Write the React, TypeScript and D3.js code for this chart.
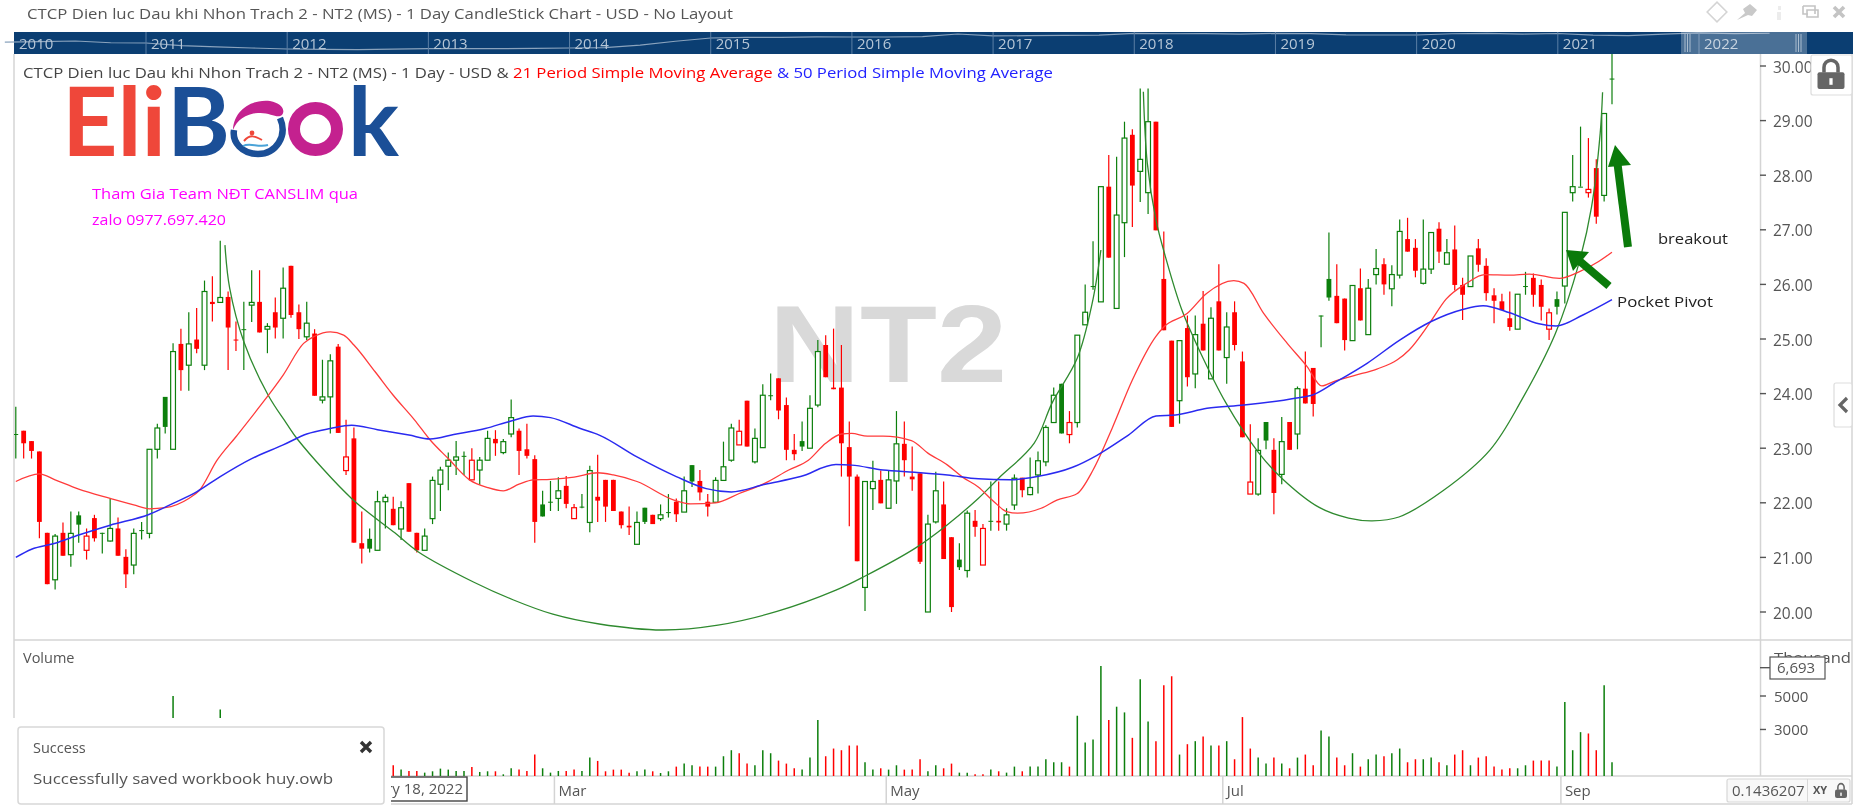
import React, { useEffect, useRef } from "react";
import * as d3 from "d3";

const WIDTH = 1856;
const HEIGHT = 810;

const FONT = "'Open Sans', sans-serif";

const openPrices = [
    23.26, 23.32, 23.13, 22.94, 21.45, 20.59, 21.45, 21.05, 21.77, 21.13,
    21.72, 21.45, 21.30, 21.53, 21.01, 20.86, 21.50, 21.44, 22.98, 23.94,
    22.98, 24.91, 24.52, 24.99, 24.52, 25.68, 25.67, 25.77, 24.99, 25.18,
    25.62, 25.68, 25.18, 25.49, 25.38, 26.34, 25.49, 25.04, 25.10, 23.88,
    23.94, 24.86, 22.59, 23.18, 21.26, 21.34, 21.13, 22.02, 21.89, 21.52,
    22.36, 21.45, 21.13, 21.71, 22.34, 22.67, 22.78, 22.86, 22.42, 22.60,
    22.78, 23.17, 22.92, 23.26, 23.32, 22.98, 22.80, 21.97, 22.02, 22.08,
    22.31, 21.71, 21.93, 21.64, 22.11, 22.42, 22.42, 21.84, 21.58, 21.24,
    21.91, 21.78, 21.71, 21.83, 22.02, 21.83, 22.69, 22.40, 22.02, 22.01,
    22.41, 22.78, 23.06, 23.87, 22.75, 23.01, 23.97, 24.28, 23.79, 22.97,
    23.13, 23.00, 23.79, 24.89, 24.11, 24.11, 23.02, 22.48, 20.45, 22.26,
    22.42, 21.90, 22.40, 23.08, 22.48, 22.54, 20.00, 21.65, 21.97, 21.37,
    20.96, 20.76, 21.67, 20.86, 21.67, 21.67, 21.61, 21.96, 22.46, 22.15,
    22.51, 22.75, 23.47, 24.18, 23.25, 23.47, 25.26, 25.97, 25.68, 27.79,
    25.56, 27.13, 28.74, 28.07, 27.68, 28.98, 26.10, 24.97, 23.87, 25.20,
    24.36, 25.28, 24.27, 25.69, 24.66, 25.49, 24.59, 22.16, 22.16, 23.48,
    22.97, 22.52, 23.48, 23.26, 24.09, 24.47, 25.43, 26.10, 25.79, 25.74,
    24.97, 25.93, 25.08, 26.18, 26.37, 25.92, 26.17, 26.83, 26.67, 26.02,
    26.28, 27.02, 26.37, 26.64, 25.99, 25.96, 26.66, 26.34, 25.80, 25.69,
    25.38, 25.18, 25.97, 26.12, 25.99, 25.18, 25.73, 25.97, 27.68, 27.79,
    27.68, 28.13, 27.63, 29.77,
];

const closePrices = [
    23.26, 23.09, 22.95, 21.65, 20.51, 21.39, 21.03, 21.44, 21.60, 21.39,
    21.35, 21.45, 21.53, 21.03, 20.69, 21.44, 21.50, 22.98, 23.37, 23.39,
    24.77, 24.43, 24.91, 24.82, 25.87, 25.64, 25.76, 25.21, 24.98, 25.18,
    25.67, 25.12, 25.23, 25.21, 25.93, 25.44, 25.18, 25.29, 23.96, 23.94,
    24.60, 23.28, 22.84, 21.27, 21.16, 21.16, 22.02, 22.10, 21.59, 21.91,
    21.47, 21.13, 21.39, 22.41, 22.60, 22.78, 22.84, 22.86, 22.78, 22.78,
    23.18, 23.09, 23.12, 23.56, 22.95, 22.86, 21.65, 21.75, 22.02, 22.22,
    21.98, 21.91, 21.93, 22.59, 22.04, 21.93, 21.85, 21.59, 21.55, 21.64,
    21.65, 21.61, 21.78, 21.83, 21.79, 22.22, 22.39, 22.19, 21.93, 22.41,
    22.66, 23.37, 23.31, 23.03, 23.18, 23.97, 23.97, 23.69, 22.97, 22.89,
    23.03, 23.73, 24.77, 24.30, 24.08, 23.09, 22.48, 20.93, 22.39, 22.39,
    21.99, 22.42, 23.08, 22.78, 22.43, 20.92, 21.61, 22.22, 20.97, 20.09,
    20.82, 21.81, 21.56, 21.53, 21.67, 21.64, 21.78, 22.45, 22.23, 22.28,
    22.77, 23.38, 23.97, 23.27, 23.47, 25.07, 25.49, 25.97, 27.79, 26.49,
    27.27, 28.68, 27.81, 28.29, 28.98, 26.99, 25.16, 23.39, 24.97, 24.30,
    25.08, 24.79, 25.38, 24.79, 25.22, 24.89, 23.20, 22.38, 22.96, 23.14,
    22.18, 23.12, 22.97, 24.09, 23.82, 23.81, 25.43, 25.76, 25.29, 24.98,
    25.98, 25.34, 25.93, 26.29, 26.00, 26.18, 26.97, 26.60, 26.25, 26.28,
    26.95, 26.60, 26.58, 25.99, 25.81, 26.52, 26.36, 25.84, 25.70, 25.53,
    25.22, 25.82, 25.97, 25.81, 25.59, 25.48, 25.59, 27.32, 27.79, 27.79,
    27.74, 27.24, 29.13, 29.77,
];

const highPrices = [
    23.76, 23.32, 23.13, 22.94, 21.45, 21.43, 21.64, 21.84, 21.84, 21.53,
    21.78, 21.45, 22.08, 21.73, 21.15, 21.53, 21.65, 22.98, 23.45, 23.94,
    24.92, 25.19, 25.49, 25.57, 26.07, 26.15, 26.80, 25.87, 25.32, 25.68,
    26.26, 26.26, 25.29, 25.76, 26.31, 26.34, 25.63, 25.68, 25.18, 24.62,
    24.72, 24.91, 23.52, 23.38, 21.84, 21.53, 22.22, 22.15, 22.11, 22.03,
    22.36, 21.45, 21.53, 22.48, 22.66, 22.92, 23.13, 22.94, 23.00, 22.84,
    23.32, 23.33, 23.17, 23.89, 23.36, 23.45, 22.87, 22.22, 22.40, 22.47,
    22.49, 21.98, 22.16, 22.68, 22.88, 22.42, 22.42, 21.84, 21.93, 21.84,
    21.91, 21.78, 21.97, 22.16, 22.08, 22.48, 22.69, 22.60, 22.16, 22.47,
    23.12, 23.45, 23.52, 23.87, 23.36, 24.17, 24.37, 24.28, 23.93, 23.26,
    23.49, 23.97, 24.98, 25.07, 25.19, 24.89, 23.49, 22.52, 22.39, 22.77,
    22.59, 22.59, 23.68, 23.49, 23.03, 22.54, 21.78, 22.57, 22.39, 21.37,
    21.26, 21.86, 21.87, 21.61, 22.39, 22.39, 21.90, 22.52, 22.46, 22.83,
    22.94, 23.42, 24.11, 24.18, 23.68, 25.07, 26.00, 26.79, 27.79, 28.37,
    28.34, 28.98, 28.84, 29.59, 29.59, 28.98, 26.97, 24.97, 24.97, 25.43,
    25.43, 25.88, 25.58, 26.37, 25.49, 25.69, 24.77, 23.44, 23.18, 23.48,
    23.18, 23.57, 23.48, 24.13, 24.77, 24.47, 25.43, 26.95, 26.37, 25.74,
    25.98, 26.29, 26.10, 26.65, 26.48, 26.35, 27.19, 27.22, 26.83, 27.19,
    26.95, 27.14, 26.83, 27.08, 26.12, 26.52, 26.83, 26.48, 25.93, 25.83,
    25.87, 25.82, 26.23, 26.20, 26.09, 25.56, 25.87, 27.32, 28.37, 28.89,
    28.68, 28.29, 29.13, 30.23,
];

const lowPrices = [
    22.81, 22.81, 22.81, 21.35, 20.51, 20.41, 21.03, 20.83, 21.27, 20.96,
    21.29, 21.07, 21.29, 21.03, 20.44, 20.69, 21.33, 21.35, 22.81, 23.27,
    22.98, 24.05, 24.05, 24.74, 24.43, 25.32, 25.67, 24.43, 24.78, 24.43,
    25.31, 25.12, 24.74, 25.01, 25.01, 25.39, 25.00, 24.98, 23.96, 23.82,
    23.27, 23.28, 22.51, 21.27, 20.89, 21.09, 21.13, 21.53, 21.59, 21.32,
    21.47, 21.09, 21.13, 21.61, 21.85, 22.23, 22.51, 22.51, 22.42, 22.33,
    22.78, 22.86, 22.89, 23.20, 22.51, 22.81, 21.27, 21.75, 21.85, 21.85,
    21.90, 21.71, 21.90, 21.46, 21.65, 21.65, 21.85, 21.53, 21.41, 21.24,
    21.61, 21.61, 21.67, 21.73, 21.65, 21.83, 22.29, 22.04, 21.75, 22.01,
    22.41, 22.75, 23.06, 23.03, 22.72, 23.01, 23.88, 23.53, 22.78, 22.78,
    22.95, 23.00, 23.75, 24.30, 24.08, 22.48, 21.57, 20.93, 20.02, 21.87,
    21.99, 21.90, 21.98, 22.48, 22.22, 20.88, 20.00, 21.62, 20.97, 20.00,
    20.77, 20.63, 21.38, 20.86, 21.49, 21.49, 21.49, 21.87, 22.10, 22.14,
    22.17, 22.67, 23.47, 23.27, 23.09, 23.38, 25.26, 25.90, 25.68, 26.49,
    25.56, 26.50, 27.05, 27.51, 27.29, 26.99, 25.16, 23.39, 23.45, 24.13,
    24.10, 24.79, 24.27, 24.79, 24.18, 24.79, 23.20, 22.16, 22.13, 22.98,
    21.79, 22.34, 22.97, 22.98, 23.82, 23.58, 24.85, 25.70, 25.29, 24.79,
    24.97, 25.34, 25.08, 26.00, 25.81, 25.60, 26.11, 26.60, 26.13, 26.00,
    26.19, 26.39, 26.37, 25.89, 25.35, 25.96, 26.23, 25.70, 25.29, 25.53,
    25.15, 25.18, 25.81, 25.59, 25.34, 24.98, 25.45, 25.65, 27.52, 27.79,
    27.59, 27.11, 27.52, 29.30,
];

// g = closed above the previous close, r = closed below it
const trend = (
    "grrrrgrggr" + "rggrrggggg" + "grgrgrgrrg" + "grgrgrrgrg" + "grrrrgggrg" +
    "rrggggggrg" + "grggrrrggg" + "rrggrrrrrg" + "grggrggrrg" + "ggrrgggrrr" +
    "gggrrrrrgg" + "rggrrrggrr" + "ggrrgrggrg" + "ggggrggggr" + "ggrggrrrgr" +
    "grgrgrrrgg" + "rgrgrrggrr" + "grggrggrrg" + "grgrrgrrrr" + "rggrrrgggg" +
    "rrgg"
).split("");

// thousand shares; the first 48 bars sit behind the notification
const volumes = [
    1100, 900, 800, 1300, 1200, 1000, 900, 700, 600, 800,
    700, 500, 900, 800, 900, 1100, 600, 2100, 1500, 1200,
    5000, 1600, 1300, 900, 2000, 1000, 4200, 1200, 700, 800,
    1100, 1000, 600, 800, 1200, 1300, 900, 800, 1900, 900,
    1000, 1800, 1300, 2200, 1100, 800, 900, 700, 860, 600,
    520, 520, 420, 500, 660, 600, 520, 520, 760, 460,
    500, 500, 320, 680, 600, 520, 1500, 680, 420, 520,
    520, 600, 520, 1320, 1120, 500, 600, 600, 420, 500,
    600, 500, 400, 500, 780, 960, 860, 780, 780, 780,
    1400, 1760, 1580, 960, 860, 1760, 1580, 1140, 960, 680,
    600, 1320, 3560, 1400, 1860, 1760, 2040, 2040, 1040, 600,
    680, 600, 860, 600, 600, 1220, 500, 860, 680, 960,
    420, 420, 320, 320, 600, 500, 420, 780, 500, 780,
    780, 1220, 1040, 1040, 780, 3820, 2220, 2400, 6800, 3560,
    4360, 4020, 2500, 6000, 3480, 2300, 5640, 6180, 1500, 2120,
    2300, 2580, 2040, 2040, 2300, 1220, 3740, 1860, 1320, 960,
    1320, 960, 680, 1320, 1500, 860, 2940, 2580, 1320, 860,
    1580, 780, 1220, 1500, 1400, 1580, 1860, 1040, 1220, 1220,
    1320, 1040, 860, 1500, 1760, 860, 1320, 1400, 780, 600,
    680, 680, 860, 1140, 1140, 1140, 780, 4640, 1760, 2840,
    2760, 1760, 5640, 1040,
];

const ma21Index = [
    0, 3, 5, 8, 12, 15, 17, 19, 22, 23.3, 25.6, 28, 31, 34, 36.6, 38, 40, 41.7, 43, 45.7,
    48, 50.7, 52.7, 55, 57.7, 60, 62, 64, 65.8, 68, 71, 74, 76, 79, 83.7, 85.8, 89, 92,
    95.3, 98.3, 100.8, 103, 105, 106.3, 108.3, 110.3, 113.9, 116, 118.5, 120.4, 122.4,
    124.4, 126, 127.4, 130.4, 132.4, 135, 137, 139.5, 142, 145, 146, 149, 151.4, 154.9,
    156.2, 158.7, 161.7, 164.2, 166.1, 167.6, 170.2, 173.1, 175.7, 177.2, 179.8, 181.9,
    184.5, 186.8, 190, 192.5, 196.3, 198.8, 201.3, 203,
];
const ma21Values = [
    22.39, 22.53, 22.42, 22.25, 22.08, 21.96, 21.89, 21.91, 22.08, 22.22, 22.78, 23.21, 23.76, 24.34, 24.92, 25.05, 25.13, 25.07, 24.89, 24.40,
    23.97, 23.52, 23.15, 22.81, 22.42, 22.28, 22.22, 22.34, 22.42, 22.43, 22.47, 22.55, 22.51, 22.39, 22.05, 21.98, 22.00, 22.17,
    22.36, 22.60, 22.78, 23.09, 23.26, 23.27, 23.22, 23.22, 23.14, 22.91, 22.69, 22.47, 22.29,
    22.02, 21.84, 21.81, 21.90, 22.05, 22.17, 22.60, 23.39, 24.25, 25.05, 25.22, 25.47, 25.83, 26.07,
    26.02, 25.47, 24.92, 24.50, 24.14, 24.22, 24.33, 24.45, 24.62, 24.80, 25.29, 25.73,
    26.02, 26.18, 26.17, 26.19, 26.11, 26.23, 26.42, 26.59,
];

const ma50Index = [
    0, 2, 5, 8, 12, 17, 20, 23, 26, 30, 34, 37, 40, 42.7, 46, 50, 52.7, 55.7, 59.7, 63,
    65.8, 68, 71.8, 74.2, 79, 84, 87.8, 91, 95.3, 99.8, 104.3, 106.3, 110.3, 114.3, 118.5,
    122.4, 126.4, 129.9, 134.4, 137.5, 141.5, 145, 147.5, 151.5, 156.2, 162.9, 165, 167.6,
    171.9, 176, 180, 184, 186.6, 190, 193.7, 195.9, 199.3, 203,
];
const ma50Values = [
    21.00, 21.15, 21.26, 21.41, 21.59, 21.79, 21.99, 22.20, 22.48, 22.81, 23.06, 23.26, 23.36, 23.42, 23.34, 23.24, 23.17, 23.25, 23.36, 23.50,
    23.59, 23.56, 23.36, 23.24, 22.84, 22.48, 22.26, 22.20, 22.34, 22.48, 22.70, 22.69, 22.60, 22.56, 22.51,
    22.44, 22.42, 22.48, 22.65, 22.87, 23.24, 23.59, 23.61, 23.73, 23.79, 23.92, 23.98, 24.19,
    24.56, 24.98, 25.32, 25.54, 25.61, 25.48, 25.28, 25.24, 25.44, 25.72,
];

// hand drawn cup curves, as bar index and price
const firstCupIndex = [
    26.6, 27.2, 29, 32.1, 34.4, 35.9, 42.7, 48.2, 51.2, 58.2, 63.3, 68.3, 74.2, 82.2, 89.3,
    96.8, 104.3, 107.9, 114.4, 118.4, 122.4, 125, 129.5, 131.8, 135, 136.9, 138,
];
const firstCupPrice = [
    26.72, 25.93, 24.95, 23.97, 23.46, 23.15, 22.08, 21.45, 21.10, 20.55, 20.22, 19.96, 19.78, 19.67, 19.76,
    20.01, 20.40, 20.65, 21.17, 21.59, 22.08, 22.45, 23.09, 23.83, 24.65, 25.66, 26.63,
];
const secondCupIndex = [
    143.4, 143.9, 145, 146.2, 148.3, 150.5, 153.9, 158, 161, 165.7, 169.5, 172.5, 175.9,
    181.5, 187.5, 191.5, 195.8, 198.8, 200.4, 201.5, 201.8,
];
const secondCupPrice = [
    29.53, 28.22, 27.18, 26.51, 25.53, 24.80, 23.83, 22.93, 22.45, 21.92, 21.72, 21.67, 21.74,
    22.22, 22.97, 23.88, 25.10, 26.39, 27.42, 28.77, 29.52,
];

const volumeTicks = [3000, 5000];
const lastVolume = 6693;

const monthLabels = ["Mar", "May", "Jul", "Sep"];
const monthStarts = [68.5, 110.7, 153.5, 196.5];

const navigatorYears = [2010, 2011, 2012, 2013, 2014, 2015, 2016, 2017, 2018, 2019, 2020, 2021, 2022];
// quarterly closes for the overview strip, from 2010.0
const navigatorCloses = [
    18.6, 19.0, 19.8, 17.8, 17.5, 14.5, 13.0, 11.8, 10.7, 10.2, 10.0, 10.5,
    11.0, 11.2, 11.0, 11.5, 11.8, 12.2, 15.0, 19.5, 23.2, 23.8, 24.0, 24.4,
    24.3, 24.3, 24.8, 27.7, 25.5, 25.8, 26.2, 26.4, 28.5, 28.0, 28.2, 27.5,
    28.4, 28.2, 26.8, 26.6, 26.6, 28.0, 28.4, 27.6, 28.3, 26.4, 25.8, 27.5,
    28.9, 28.2, 28.6,
];

const App = () => {
    const chartRef = useRef(null);

    const xScale = d3.scaleLinear().domain([0, openPrices.length - 1]).range([15.8, 1612]);
    const yScale = d3.scaleLinear().domain([20, 30]).range([612, 66]);
    const volumeScale = d3.scaleLinear().domain([219, 5000]).range([776, 696]);
    const navigatorX = d3.scaleLinear().domain([2011, 2022]).range([146, 1699]);
    const navigatorY = d3.scaleLinear().domain([5, 30]).range([54, 32]);

    const RED = "#ff0000";
    const GREEN = "#0c7f0c";

    const addText = (parent, text, x, y, size, fill) =>
        parent
            .append("text")
            .text(text)
            .attr("x", x)
            .attr("y", y)
            .attr("font-size", size)
            .attr("font-family", FONT)
            .attr("fill", fill);

    const drawFrame = (svg) => {
        const frame = svg.append("g").attr("stroke", "#d4d4d4").attr("stroke-width", 1.5);
        [
            [14, 54, 14, 718],
            [14, 640, 1852, 640],
            [14, 776, 1852, 776],
            [391, 804, 1852, 804],
            [1760.5, 54, 1760.5, 776],
            [1852, 54, 1852, 804],
        ].forEach(([x1, y1, x2, y2]) => {
            frame.append("line").attr("x1", x1).attr("y1", y1).attr("x2", x2).attr("y2", y2);
        });
    };

    const drawHeader = (svg) => {
        addText(
            svg,
            "CTCP Dien luc Dau khi Nhon Trach 2 - NT2 (MS) - 1 Day CandleStick Chart - USD - No Layout",
            27,
            19,
            15,
            "#555"
        ).attr("textLength", 706).attr("lengthAdjust", "spacingAndGlyphs");

        const icons = svg.append("g").attr("fill", "#c9c9c9");
        icons
            .append("rect")
            .attr("x", -7)
            .attr("y", -7)
            .attr("width", 14)
            .attr("height", 14)
            .attr("transform", "translate(1717,12) rotate(45)")
            .attr("fill", "none")
            .attr("stroke", "#d4d4d4")
            .attr("stroke-width", 1.5);
        icons
            .append("path")
            .attr("d", "M1737,20 L1745,13 L1743,9 L1750,4 L1757,10 L1752,16 L1748,15 Z");
        icons
            .append("path")
            .attr("d", "M1778,6 L1781,6 L1781,10 L1778,10 Z M1777,12 L1781,12 L1781,20 L1777,20 Z")
            .attr("fill", "#ececec");
        icons
            .append("path")
            .attr("d", "M1803,6 H1815 V14 M1803,6 V14 H1808 M1807,10 H1818 V17 H1807 Z")
            .attr("fill", "none")
            .attr("stroke", "#c4c4c4")
            .attr("stroke-width", 1.6);
        icons
            .append("path")
            .attr("d", "M1834,7 L1844,17 M1844,7 L1834,17")
            .attr("stroke", "#c4c4c4")
            .attr("stroke-width", 3.6);
    };

    const drawNavigator = (svg) => {
        const strip = svg.append("g");
        strip
            .append("rect")
            .attr("x", 14)
            .attr("y", 32)
            .attr("width", 1839)
            .attr("height", 22)
            .attr("fill", "#0b3e72");

        const line = d3
            .line()
            .x((d, i) => navigatorX(2010 + i / 4))
            .y((d) => navigatorY(d));
        strip
            .append("path")
            .attr("d", line(navigatorCloses))
            .attr("fill", "none")
            .attr("stroke", "#8aa3bd")
            .attr("stroke-width", 1.2);

        navigatorYears.forEach((year, i) => {
            const x = navigatorX(year);
            if (i > 0) {
                strip
                    .append("line")
                    .attr("x1", x)
                    .attr("x2", x)
                    .attr("y1", 32)
                    .attr("y2", 54)
                    .attr("stroke", "#5b7fa5");
            }
            addText(strip, year, i > 0 ? x + 5 : 19, 48.5, 15, "#b6c6d6");
        });

        strip
            .append("rect")
            .attr("x", 1681)
            .attr("y", 32)
            .attr("width", 126)
            .attr("height", 22)
            .attr("fill", "#fff")
            .attr("opacity", 0.26);
        [1685, 1687.5, 1690, 1796, 1798.5, 1801].forEach((x) => {
            strip
                .append("line")
                .attr("x1", x)
                .attr("x2", x)
                .attr("y1", 34)
                .attr("y2", 52)
                .attr("stroke", "#a9bccf")
                .attr("stroke-width", 1);
        });
    };

    const drawLegend = (svg) => {
        const legend = addText(svg, null, 23, 78, 14.5, "#444");
        legend.attr("textLength", 1030).attr("lengthAdjust", "spacingAndGlyphs");
        legend.append("tspan").text("CTCP Dien luc Dau khi Nhon Trach 2 - NT2 (MS) - 1 Day - USD & ");
        legend.append("tspan").attr("fill", "#ff0000").text("21 Period Simple Moving Average ");
        legend.append("tspan").attr("fill", "#2222ff").text("& 50 Period Simple Moving Average");
    };

    const drawWatermark = (svg) => {
        svg.append("text")
            .text("NT2")
            .attr("x", 769)
            .attr("y", 382)
            .attr("font-size", 110)
            .attr("font-weight", 700)
            .attr("font-family", "'Liberation Sans', Arial, sans-serif")
            .attr("fill", "#d9d9d9")
            .attr("textLength", 238)
            .attr("lengthAdjust", "spacingAndGlyphs");
    };

    const drawLogo = (svg) => {
        const logo = svg.append("g");
        const piece = (text, x, length, fill) =>
            logo
                .append("text")
                .text(text)
                .attr("x", x)
                .attr("y", 155.5)
                .attr("font-size", 96)
                .attr("font-weight", 700)
                .attr("font-family", "Lato, sans-serif")
                .attr("fill", fill)
                .attr("textLength", length)
                .attr("lengthAdjust", "spacingAndGlyphs");
        piece("Eli", 62, 104, "#ef473a");
        piece("B", 167, 63, "#1b4f97");
        piece("k", 348, 51, "#1b4f97");

        logo.append("ellipse")
            .attr("cx", 315.5)
            .attr("cy", 129)
            .attr("rx", 21.5)
            .attr("ry", 21)
            .attr("fill", "none")
            .attr("stroke", "#c4218f")
            .attr("stroke-width", 12);
        logo.append("path")
            .attr("d", "M233,130 C234,110 252,99 270,101 C281,103 286,110 282,115 C277,119 270,112 258,113 C245,114 237,120 233,130 Z")
            .attr("fill", "#c4218f");
        logo.append("path")
            .attr("d", "M280,118 C288,136 276,154 258,154 C242,154 232,142 234,130")
            .attr("fill", "none")
            .attr("stroke", "#1b4f97")
            .attr("stroke-width", 6.5);
        logo.append("circle").attr("cx", 252).attr("cy", 133).attr("r", 2.4).attr("fill", "#ef473a");
        logo.append("path")
            .attr("d", "M244,141 C250,134 255,136 262,140")
            .attr("fill", "none")
            .attr("stroke", "#ef473a")
            .attr("stroke-width", 2);
        logo.append("path")
            .attr("d", "M243,146 C250,142 258,148 268,145")
            .attr("fill", "none")
            .attr("stroke", "#4aa3d8")
            .attr("stroke-width", 2);

        addText(svg, "Tham Gia Team NĐT CANSLIM qua", 92, 199, 14.5, "#ff00ff")
            .attr("textLength", 266)
            .attr("lengthAdjust", "spacingAndGlyphs");
        addText(svg, "zalo 0977.697.420", 92, 225, 14.5, "#ff00ff")
            .attr("textLength", 134)
            .attr("lengthAdjust", "spacingAndGlyphs");
    };

    const drawCandles = (plot) => {
        const candleData = openPrices.map((open, i) => ({
            x: xScale(i),
            open,
            close: closePrices[i],
            high: highPrices[i],
            low: lowPrices[i],
            color: trend[i] === "g" ? GREEN : RED,
        }));

        const candles = plot.selectAll("g.candle").data(candleData).join("g").attr("class", "candle");

        candles
            .append("line")
            .attr("x1", (d) => d.x)
            .attr("x2", (d) => d.x)
            .attr("y1", (d) => yScale(d.high))
            .attr("y2", (d) => yScale(d.low))
            .attr("stroke", (d) => d.color)
            .attr("stroke-width", 1.2);

        candles
            .append("rect")
            .attr("x", (d) => d.x - 2.4)
            .attr("y", (d) => yScale(Math.max(d.open, d.close)))
            .attr("width", 4.8)
            .attr("height", (d) => Math.max(1, Math.abs(yScale(d.open) - yScale(d.close))))
            .attr("fill", (d) => (d.close > d.open ? "#fff" : d.color))
            .attr("stroke", (d) => (d.close > d.open ? d.color : "none"))
            .attr("stroke-width", 1.2);
    };

    const drawLines = (plot) => {
        const line = d3
            .line()
            .x((d) => xScale(d[0]))
            .y((d) => yScale(d[1]));

        [
            [firstCupIndex, firstCupPrice, "#2f8a2f", 1.3, d3.curveCatmullRom.alpha(0.5)],
            [secondCupIndex, secondCupPrice, "#2f8a2f", 1.3, d3.curveCatmullRom.alpha(0.5)],
            [ma21Index, ma21Values, "#ff3b3b", 1.3, d3.curveMonotoneX],
            [ma50Index, ma50Values, "#2a2af0", 1.5, d3.curveMonotoneX],
        ].forEach(([index, values, color, width, curve]) => {
            plot.append("path")
                .attr("d", line.curve(curve)(d3.zip(index, values)))
                .attr("fill", "none")
                .attr("stroke", color)
                .attr("stroke-width", width);
        });
    };

    const drawAnnotations = (svg) => {
        const arrowGreen = "#0a7a0a";
        svg.append("line")
            .attr("x1", 1609)
            .attr("y1", 286)
            .attr("x2", 1576)
            .attr("y2", 258)
            .attr("stroke", arrowGreen)
            .attr("stroke-width", 8);
        svg.append("path").attr("d", "M1566,250 L1589,252 L1573,271 Z").attr("fill", arrowGreen);
        svg.append("line")
            .attr("x1", 1628)
            .attr("y1", 247)
            .attr("x2", 1617)
            .attr("y2", 160)
            .attr("stroke", arrowGreen)
            .attr("stroke-width", 8);
        svg.append("path").attr("d", "M1615,145 L1631,165 L1608,167 Z").attr("fill", arrowGreen);

        addText(svg, "breakout", 1658, 244, 15, "#222").attr("textLength", 70).attr("lengthAdjust", "spacingAndGlyphs");
        addText(svg, "Pocket Pivot", 1617, 307, 15, "#222").attr("textLength", 96).attr("lengthAdjust", "spacingAndGlyphs");
    };

    const drawPriceAxis = (svg) => {
        const axis = svg.append("g");
        yScale.ticks(10).forEach((tick) => {
            axis.append("line")
                .attr("x1", 1760)
                .attr("x2", 1766)
                .attr("y1", yScale(tick))
                .attr("y2", yScale(tick))
                .attr("stroke", "#555")
                .attr("stroke-width", 1.4);
            addText(axis, d3.format(".2f")(tick), 1773, yScale(tick) + 6.5, 15.5, "#555");
        });
    };

    const drawVolume = (svg) => {
        addText(svg, "Volume", 23, 663, 14.5, "#555");

        svg.append("g")
            .selectAll("line")
            .data(volumes)
            .join("line")
            .attr("x1", (d, i) => xScale(i))
            .attr("x2", (d, i) => xScale(i))
            .attr("y1", volumeScale.range()[0])
            .attr("y2", (d) => volumeScale(d))
            .attr("stroke", (d, i) => (trend[i] === "g" ? GREEN : RED))
            .attr("stroke-width", 1.5);

        addText(svg, "Thousand", 1774, 663, 15, "#555").attr("textLength", 77).attr("lengthAdjust", "spacingAndGlyphs");
        volumeTicks.forEach((tick) => {
            svg.append("line")
                .attr("x1", 1760)
                .attr("x2", 1766)
                .attr("y1", volumeScale(tick))
                .attr("y2", volumeScale(tick))
                .attr("stroke", "#555")
                .attr("stroke-width", 1.4);
            addText(svg, tick, 1774, volumeScale(tick) + 5.5, 15, "#555");
        });

        svg.append("line")
            .attr("x1", 1760)
            .attr("x2", 1770)
            .attr("y1", volumeScale(lastVolume))
            .attr("y2", volumeScale(lastVolume))
            .attr("stroke", "#555")
            .attr("stroke-width", 1.4);
        svg.append("rect")
            .attr("x", 1770)
            .attr("y", 657)
            .attr("width", 55)
            .attr("height", 22)
            .attr("fill", "#fff")
            .attr("stroke", "#555")
            .attr("stroke-width", 1.2);
        addText(svg, d3.format(",")(lastVolume), 1777, 673, 15, "#555");
    };

    const drawTimeAxis = (svg) => {
        monthLabels.forEach((label, i) => {
            const x = xScale(monthStarts[i]);
            svg.append("line")
                .attr("x1", x)
                .attr("x2", x)
                .attr("y1", 776)
                .attr("y2", 804)
                .attr("stroke", "#d4d4d4")
                .attr("stroke-width", 1.5);
            addText(svg, label, x + 4, 796, 15, "#555");
        });

        // crosshair date box, its left part is behind the notification
        svg.append("rect")
            .attr("x", 300)
            .attr("y", 777)
            .attr("width", 167)
            .attr("height", 24)
            .attr("fill", "#fff")
            .attr("stroke", "#444")
            .attr("stroke-width", 1.4);
        addText(svg, "February 18, 2022", 463, 794, 15, "#555").attr("text-anchor", "end");
    };

    const drawNotification = (svg) => {
        svg.append("rect").attr("x", 0).attr("y", 718).attr("width", 391).attr("height", 92).attr("fill", "#fff");
        svg.append("rect")
            .attr("x", 18)
            .attr("y", 727)
            .attr("width", 366)
            .attr("height", 77)
            .attr("rx", 3)
            .attr("fill", "#fff")
            .attr("stroke", "#d8d8d8")
            .attr("stroke-width", 1.5);
        addText(svg, "Success", 33, 753, 14.5, "#555");
        addText(svg, "Successfully saved workbook huy.owb", 33, 784, 14.5, "#555")
            .attr("textLength", 300)
            .attr("lengthAdjust", "spacingAndGlyphs");
        svg.append("path")
            .attr("d", "M361,742 L371,752 M371,742 L361,752")
            .attr("stroke", "#333")
            .attr("stroke-width", 3.4);
    };

    const drawControls = (svg) => {
        const lockIcon = (x, y, w, h) => {
            svg.append("path")
                .attr("d", `M${x + w * 0.24},${y + h * 0.45} V${y + h * 0.28} A${w * 0.26},${h * 0.24} 0 0 1 ${x + w * 0.76},${y + h * 0.28} V${y + h * 0.45}`)
                .attr("fill", "none")
                .attr("stroke", "#666")
                .attr("stroke-width", w * 0.13);
            svg.append("rect")
                .attr("x", x)
                .attr("y", y + h * 0.44)
                .attr("width", w)
                .attr("height", h * 0.56)
                .attr("rx", 2)
                .attr("fill", "#666");
            svg.append("rect")
                .attr("x", x + w * 0.44)
                .attr("y", y + h * 0.64)
                .attr("width", w * 0.12)
                .attr("height", h * 0.22)
                .attr("fill", "#fff");
        };

        svg.append("rect")
            .attr("x", 1811)
            .attr("y", 55)
            .attr("width", 41)
            .attr("height", 40)
            .attr("rx", 2)
            .attr("fill", "#fff")
            .attr("stroke", "#ddd")
            .attr("stroke-width", 1.2);
        lockIcon(1817.5, 59, 27, 30);

        svg.append("rect")
            .attr("x", 1834)
            .attr("y", 383)
            .attr("width", 18)
            .attr("height", 44)
            .attr("rx", 2)
            .attr("fill", "#fff")
            .attr("stroke", "#ddd")
            .attr("stroke-width", 1.2);
        svg.append("path")
            .attr("d", "M1847,398 L1840,405 L1847,412")
            .attr("fill", "none")
            .attr("stroke", "#666")
            .attr("stroke-width", 3.2);

        svg.append("rect")
            .attr("x", 1727)
            .attr("y", 779)
            .attr("width", 123)
            .attr("height", 23)
            .attr("rx", 2)
            .attr("fill", "#f8f8f8")
            .attr("stroke", "#d8d8d8")
            .attr("stroke-width", 1.2);
        svg.append("clipPath")
            .attr("id", "scale-clip")
            .append("rect")
            .attr("x", 1727)
            .attr("y", 779)
            .attr("width", 80)
            .attr("height", 23);
        addText(svg, "0.1436207", 1732, 796, 15, "#555").attr("clip-path", "url(#scale-clip)");
        svg.append("line")
            .attr("x1", 1807.5)
            .attr("x2", 1807.5)
            .attr("y1", 779)
            .attr("y2", 802)
            .attr("stroke", "#d8d8d8");
        addText(svg, "XY", 1813, 794, 11, "#555").attr("font-weight", 700);
        lockIcon(1835, 783, 12, 15);
    };

    const drawChart = () => {
        const svg = d3
            .select(chartRef.current)
            .append("svg")
            .attr("width", WIDTH)
            .attr("height", HEIGHT)
            .style("position", "absolute")
            .style("left", 0)
            .style("top", 0)
            .style("background", "#fff")
            .style("filter", "blur(0.45px)");

        svg.append("clipPath")
            .attr("id", "plot-clip")
            .append("rect")
            .attr("x", 14)
            .attr("y", 54)
            .attr("width", 1746)
            .attr("height", 586);

        drawFrame(svg);
        drawHeader(svg);
        drawWatermark(svg);
        const plot = svg.append("g").attr("clip-path", "url(#plot-clip)");
        drawCandles(plot);
        drawLines(plot);
        drawNavigator(svg);
        drawLegend(svg);
        drawLogo(svg);
        drawAnnotations(svg);
        drawPriceAxis(svg);
        drawVolume(svg);
        drawTimeAxis(svg);
        drawNotification(svg);
        drawControls(svg);
    };

    useEffect(() => {
        d3.select(chartRef.current).selectAll("*").remove();
        drawChart();
    }, []);

    return <div ref={chartRef}></div>;
};

export default App;
